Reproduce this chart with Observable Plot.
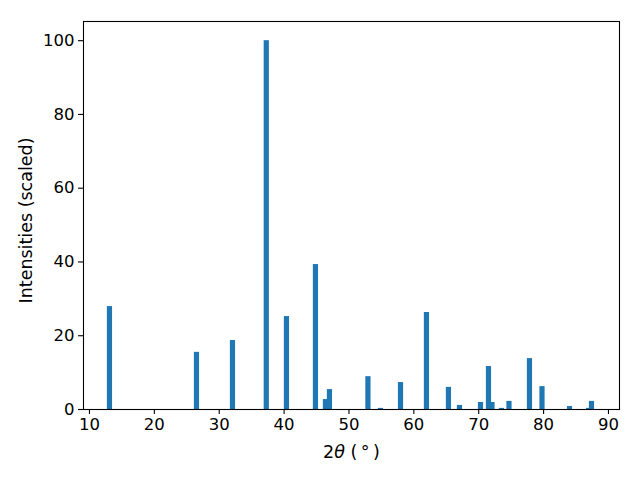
<!DOCTYPE html>
<html>
<head>
<meta charset="utf-8">
<script src="https://cdn.jsdelivr.net/npm/d3@7"></script>
<script src="https://cdn.jsdelivr.net/npm/@observablehq/plot@0.6"></script>
<style>
  html, body { margin: 0; padding: 0; background: white; }
</style>
</head>
<body>
<div id="chart"></div>
<script>
const twoTheta = [13.16, 26.57, 32.12, 37.33, 40.44, 44.91, 46.45, 47.07, 53.0, 54.93, 58.02, 62.02, 65.41, 67.11, 70.35, 71.58, 72.12, 73.58, 74.74, 77.90, 79.83, 84.07, 87.0, 87.46];
const intensities = [27.9, 15.5, 18.7, 100, 25.2, 39.3, 2.7, 5.4, 8.9, 0.3, 7.3, 26.3, 6.0, 1.1, 1.9, 11.65, 1.9, 0.3, 2.2, 13.8, 6.2, 0.8, 0.3, 2.2];
const xTicks = [10, 20, 30, 40, 50, 60, 70, 80, 90];
const yTicks = [0, 20, 40, 60, 80, 100];
const barWidth = 0.8;

const data = twoTheta.map((t, i) => ({t, v: intensities[i]}));

const chart = Plot.plot({
  width: 640,
  height: 480,
  marginLeft: 83,
  marginRight: 21,
  marginTop: 21,
  marginBottom: 71,
  x: {domain: [9.08, 91.7]},
  y: {domain: [0, 105.2]},
  style: {fontFamily: "DejaVu Sans", fontSize: "16.5px", color: "black", background: "white"},
  marks: [
    Plot.rectY(data, {x1: d => d.t - barWidth / 2, x2: d => d.t + barWidth / 2, y1: 0, y2: "v", fill: "#1f77b4", inset: 0}),
    Plot.frame({stroke: "black", strokeWidth: 1.1}),
    Plot.axisX({ticks: xTicks, tickSize: 5, tickPadding: 4, label: null, tickFormat: d => String(d), stroke: "black", strokeWidth: 1.1}),
    Plot.axisY({ticks: yTicks, tickSize: 5, tickPadding: 4, label: null, tickFormat: d => String(d), stroke: "black", strokeWidth: 1.1}),
    Plot.text(["2θ (°)"], {frameAnchor: "bottom", dy: 43, lineAnchor: "middle", fill: "black", fontSize: 17.5, className: "xlabel"}),
    Plot.text(["Intensities (scaled)"], {frameAnchor: "left", dx: -57, dy: 5, rotate: -90, lineAnchor: "middle", textAnchor: "middle", fill: "black", fontSize: 17.5})
  ]
});

document.getElementById("chart").appendChild(chart);

// mathtext-like x label: italic theta, spaced superscript degree
const xl = chart.querySelector(".xlabel text");
if (xl) {
  xl.textContent = "";
  const ns = "http://www.w3.org/2000/svg";
  const parts = [["2", null], ["θ", "italic"], [" (\u2009", null], ["°", null], ["\u2009)", null]];
  for (const [s, st] of parts) {
    const ts = document.createElementNS(ns, "tspan");
    ts.textContent = s;
    if (st) ts.setAttribute("font-style", st);
    xl.appendChild(ts);
  }
}
</script>
</body>
</html>
